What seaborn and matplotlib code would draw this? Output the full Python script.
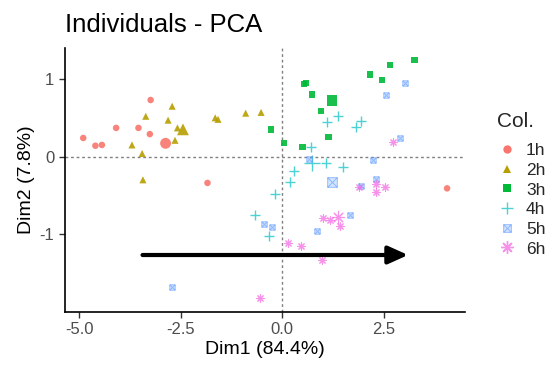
import numpy as np
import pandas as pd
import matplotlib
matplotlib.use("Agg")
import matplotlib.pyplot as plt
from matplotlib.path import Path
from matplotlib.lines import Line2D
from matplotlib.colors import to_rgba
import seaborn as sns

groups = ["1h", "2h", "3h", "4h", "5h", "6h"]
colors = ["#F8766D", "#B79F00", "#00BA38", "#00BFC4", "#619CFF", "#F564E3"]

x_1h = [-4.90, -4.60, -4.44, -4.09, -3.54, -3.24, -3.26, -1.84, 4.06]
y_1h = [0.24, 0.14, 0.15, 0.37, 0.37, 0.73, 0.29, -0.34, -0.41]
x_2h = [-2.71, -3.36, -2.81, -2.58, -2.64, -3.70, -3.45, -3.43, -1.65, -1.58, -0.90, -0.52]
y_2h = [0.65, 0.52, 0.47, 0.37, 0.21, 0.15, 0.04, -0.30, 0.50, 0.48, 0.56, 0.57]
x_3h = [-0.27, 0.05, 0.50, 0.53, 0.59, 0.73, 0.95, 1.14, 2.17, 2.46, 2.65, 3.26]
y_3h = [0.35, 0.18, 0.125, 0.94, 0.95, 0.80, 0.59, 0.25, 1.06, 0.99, 1.18, 1.25]
x_4h = [1.10, 1.37, 1.82, 1.94, 0.72, 1.07, 1.50, 0.30, 0.20, -0.18, -0.66, -0.33]
y_4h = [0.45, 0.52, 0.38, 0.46, 0.125, -0.085, -0.13, -0.18, -0.33, -0.48, -0.75, -1.03]
x_5h = [3.03, 2.56, 2.91, 0.66, 2.24, 2.32, 1.94, 1.66, 0.85, -0.45, -0.25, -2.72]
y_5h = [0.95, 0.80, 0.245, -0.03, -0.05, -0.29, -0.38, -0.76, -0.96, -0.87, -0.91, -1.68]
x_6h = [2.73, 1.90, 2.31, 2.52, 2.30, 1.01, 1.18, 1.43, 0.15, 0.46, 0.99, -0.55]
y_6h = [0.19, -0.39, -0.35, -0.39, -0.46, -0.79, -0.82, -0.90, -1.11, -1.15, -1.34, -1.83]

arrow_start = (-3.44, -1.27)
arrow_end = (3.10, -1.27)

xs = [x_1h, x_2h, x_3h, x_4h, x_5h, x_6h]
ys = [y_1h, y_2h, y_3h, y_4h, y_5h, y_6h]

rows = []
for g, xv, yv in zip(groups, xs, ys):
    for a, b in zip(xv, yv):
        rows.append({"Dim1": a, "Dim2": b, "Col.": g})
df = pd.DataFrame(rows)
cent = df.groupby("Col.", sort=False)[["Dim1", "Dim2"]].mean().reset_index()

# square with X marker (R shape 7)
sqx = Path(
    [(-1, -1), (1, -1), (1, 1), (-1, 1), (-1, -1), (-1, -1), (1, 1), (-1, 1), (1, -1)],
    [Path.MOVETO, Path.LINETO, Path.LINETO, Path.LINETO, Path.CLOSEPOLY,
     Path.MOVETO, Path.LINETO, Path.MOVETO, Path.LINETO],
)
markers = ["o", "^", "s", "+", sqx, (8, 2, 0)]
filled = [True, True, True, False, False, False]
sizes = [22, 26, 20, 48, 15, 28]
lws = [0, 0, 0, 1.0, 0.7, 0.8]

sns.set_theme(style="white")
plt.rcParams["font.family"] = ["Liberation Sans", "DejaVu Sans"]

fig = plt.figure(figsize=(5.47, 3.67), dpi=100)
ax = fig.add_axes([0.118, 0.151, 0.732, 0.718])

ax.axhline(0, color="#808080", lw=1, ls=(0, (2, 2)), zorder=1)
ax.axvline(0, color="#808080", lw=1, ls=(0, (2, 2)), zorder=1)

for i, g in enumerate(groups):
    sub = df[df["Col."] == g]
    c = cent[cent["Col."] == g]
    if filled[i]:
        kw = dict(color=colors[i], edgecolor="none", alpha=0.9)
    elif i == 4:
        kw = dict(facecolor=to_rgba(colors[i], 0.25), edgecolor=to_rgba(colors[i], 0.65),
                  linewidth=lws[i])
    else:
        kw = dict(color=colors[i], linewidth=lws[i], alpha=0.7)
    sns.scatterplot(x=sub["Dim1"], y=sub["Dim2"], ax=ax,
                    marker=markers[i], s=sizes[i], legend=False, zorder=3, **kw)
    sns.scatterplot(x=c["Dim1"], y=c["Dim2"], ax=ax,
                    marker=markers[i], s=sizes[i] * 3.2 if i == 4 else sizes[i] * 2.8,
                    legend=False, zorder=3, **kw)

ax.annotate("", xy=arrow_end, xytext=arrow_start,
            arrowprops=dict(arrowstyle="-|>,head_length=1.0,head_width=0.45",
                            color="black", lw=3, shrinkA=0, shrinkB=0), zorder=4)

ax.set_xlim(-5.36, 4.50)
ax.set_ylim(-2.0, 1.40)
ax.set_xticks([-5.0, -2.5, 0.0, 2.5])
ax.set_xticklabels(["-5.0", "-2.5", "0.0", "2.5"])
ax.set_yticks([-1, 0, 1])
ax.set_yticklabels(["-1", "0", "1"])
for s in ["top", "right"]:
    ax.spines[s].set_visible(False)
for s in ["left", "bottom"]:
    ax.spines[s].set_color("black")
    ax.spines[s].set_linewidth(1.2)
ax.tick_params(axis="both", which="major", direction="out", length=4, width=1,
               color="#333333", labelsize=12, labelcolor="#4D4D4D", bottom=True, left=True)
ax.set_xlabel("Dim1 (84.4%)", fontsize=14, color="black", labelpad=3)
ax.set_ylabel("Dim2 (7.8%)", fontsize=14, color="black", labelpad=3)
ax.grid(False)

fig.text(0.119, 0.912, "Individuals - PCA", fontsize=18.5, color="black", ha="left", va="baseline")

handles = []
for i, g in enumerate(groups):
    if filled[i]:
        h = Line2D([], [], linestyle="none", marker=markers[i], color=colors[i],
                   markersize=6, markeredgewidth=0)
    elif i == 4:
        h = Line2D([], [], linestyle="none", marker=markers[i],
                   markerfacecolor=to_rgba(colors[i], 0.25),
                   markeredgecolor=to_rgba(colors[i], 0.65),
                   markersize=5.5, markeredgewidth=0.7)
    else:
        h = Line2D([], [], linestyle="none", marker=markers[i], color=colors[i],
                   markersize=9, markeredgewidth=1, alpha=0.7)
    handles.append(h)
leg = fig.legend(handles, groups, title="Col.", loc="upper left",
                 bbox_to_anchor=(0.895, 0.715), frameon=False, fontsize=12.5,
                 title_fontsize=15, handletextpad=0.5, labelspacing=0.26,
                 borderaxespad=0, handlelength=1.2)
leg._legend_box.align = "left"
leg._legend_box.sep = 9

fig.savefig("out.png", dpi=100)
